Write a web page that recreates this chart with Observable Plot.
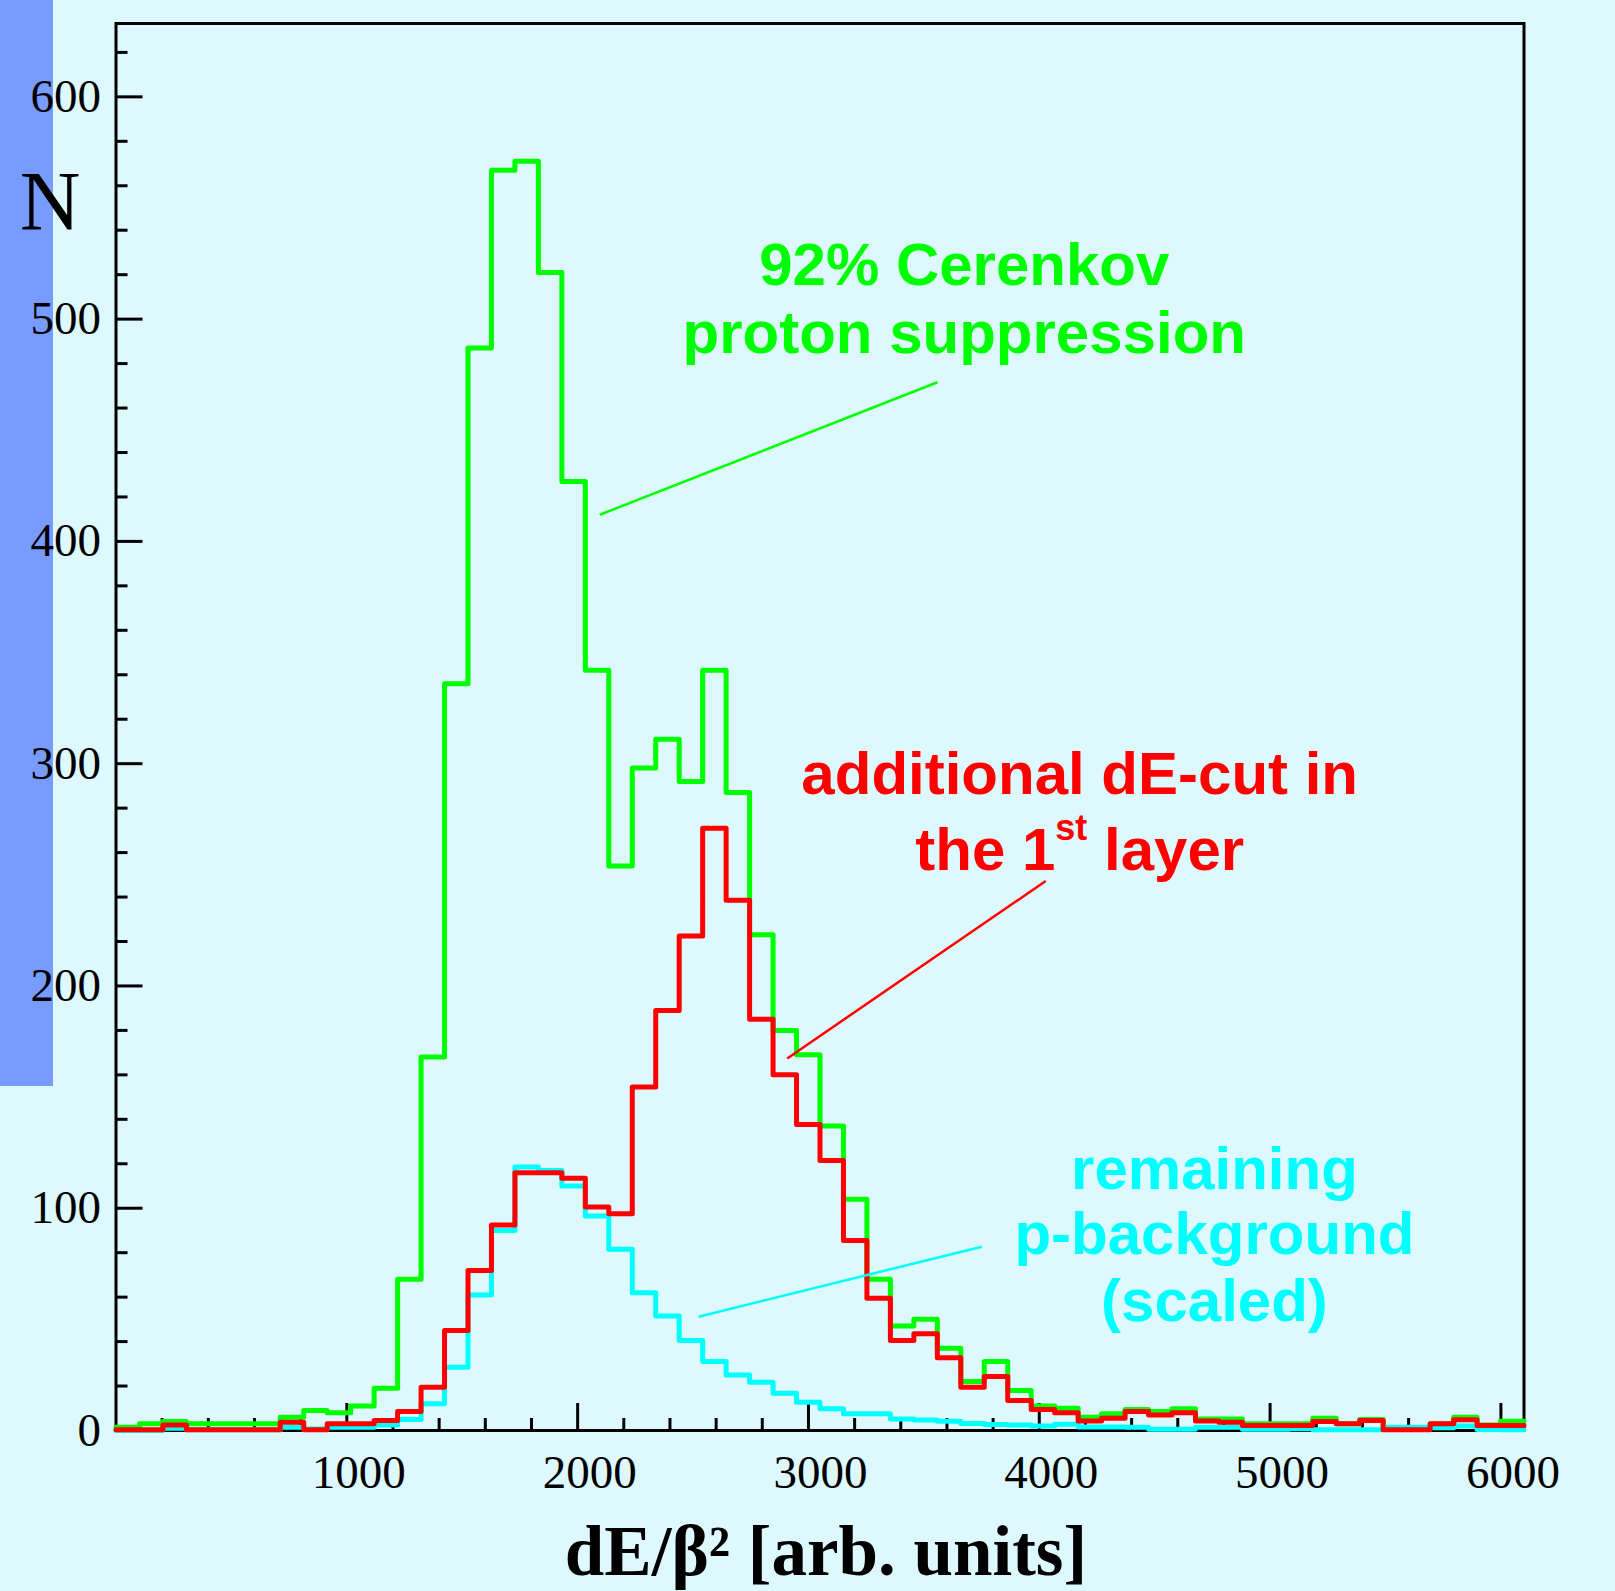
<!DOCTYPE html>
<html><head><meta charset="utf-8">
<script src="https://cdn.jsdelivr.net/npm/d3@7"></script>
<script src="https://cdn.jsdelivr.net/npm/@observablehq/plot@0.6"></script>
<style>
html,body{margin:0;padding:0;background:#ddf9fd;}
#wrap{position:relative;width:1615px;height:1591px;overflow:hidden;}
#band{position:absolute;left:0;top:0;width:53px;height:1086px;background:#779bff;}
#chart{position:absolute;left:0;top:0;}
</style></head><body>
<div id="wrap"><div id="band"></div><div id="chart"></div></div>
<script>
// histogram binning (60 bins over the axis range)
const binLow = 0, binHigh = 6100, nBins = 60;

// N per bin: 92% Cerenkov proton suppression (green)
const cerenkov = [1.5,3,4,3,3,3,3,6,9,8,
  11,19,68,168,336,487,567,571,521,427,
  342,254,298,311,292,342,287,223,180,169,
  137,104,68,47,50,37,22,31,18,11,
  10,6,7.5,9.5,8.5,9.8,5.2,5.2,3,3,
  3,5.5,3,5,1,1,3,6,2.5,4.2];
// additional dE-cut in the 1st layer (red)
const dEcut = [0.3,0.3,2.5,0.3,0.3,0.3,0.3,3.7,0.3,3,
  3,4.5,8.5,19.5,45,72,92.5,116,116,113.5,
  100.5,97.5,154.5,189,222.5,271,238.5,185,160,137.7,
  121.5,85.5,59.5,40.5,43.5,32.7,19.5,24.3,13.5,9.5,
  8,4.3,5.5,8.5,7,8,4.3,3.7,2.2,2.2,
  2.2,4,3,4.5,0.3,0.3,3,4.8,2.2,2.2];
// remaining p-background, scaled (cyan)
const pBackground = [0,0,1,0.3,0.3,0.3,0.3,1.5,0.7,1.5,
  1.5,2.5,5,12,28.5,61,90,118.5,117,110,
  96.5,81.5,62,51.5,40.5,31,25,21.7,16.8,12.7,
  9.8,7.5,7.5,5.2,4.7,4.2,3.2,2.7,2.5,2,
  2.8,1.6,1.6,1.5,0.6,0.6,1.5,1.5,0.6,0.6,
  0.8,0.3,0.3,0.3,1.5,1.5,1.2,2,0.5,0.3];

const xTickLabels = [1000,2000,3000,4000,5000,6000];
const yTickLabels = [0,100,200,300,400,500,600];
const xTitle = "dE/β² [arb. units]";
const yTitle = "N";

const GREEN = "#00ff00", RED = "#ff0000", CYAN = "#00ffff";

const greenNotes = [
  {text: "92% Cerenkov", x: 3675, y: 524},
  {text: "proton suppression", x: 3675, y: 493.5}];
const redNotes = [
  {text: "additional dE-cut in", x: 4175, y: 295},
  {text: "the 1st layer", x: 4175, y: 261}];
const cyanNotes = [
  {text: "remaining", x: 4759, y: 117.5},
  {text: "p-background", x: 4759, y: 88.2},
  {text: "(scaled)", x: 4759, y: 58}];
const pointers = [
  {x1: 2096, y1: 412, x2: 3559, y2: 471.6, c: GREEN},
  {x1: 2908, y1: 167.4, x2: 4028, y2: 247.2, c: RED},
  {x1: 2524, y1: 51.2, x2: 3751, y2: 82.7, c: CYAN}];

const binW = (binHigh - binLow) / nBins;
function steps(values) {
  const pts = values.map((v, i) => ({x: binLow + i * binW, y: v}));
  pts.push({x: binHigh, y: values[values.length - 1]});
  return pts;
}
const xMinor = d3.range(200, 6001, 200).filter(d => d % 1000 !== 0);
const yMinor = d3.range(20, 621, 20).filter(d => d % 100 !== 0);

const histStyle = {x: "x", y: "y", curve: "step-after", strokeWidth: 5, strokeLinejoin: "round"};
const noteStyle = {x: "x", y: "y", text: "text", fontFamily: "Liberation Sans", fontWeight: "bold",
  fontSize: 60, textAnchor: "middle", lineAnchor: "middle"};

const plot = Plot.plot({
  width: 1615, height: 1591,
  marginLeft: 115.5, marginRight: 91.5, marginTop: 23, marginBottom: 161,
  x: {domain: [binLow, binHigh]},
  y: {domain: [0, 633]},
  style: {background: "transparent", fontFamily: "Liberation Serif", overflow: "visible", color: "black"},
  marks: [
    Plot.axisX(xTickLabels, {tickSize: 0, tickPadding: 24, fontSize: 47, dx: 12, label: null, tickFormat: d => String(d)}),
    Plot.axisY(yTickLabels, {tickSize: 0, tickPadding: 15, fontSize: 47, label: null, tickFormat: d => String(d)}),
    Plot.ruleX(xTickLabels, {x: d => d, y1: 0, y2: 0, insetTop: -27, stroke: "black", strokeWidth: 3}),
    Plot.ruleX(xMinor, {x: d => d, y1: 0, y2: 0, insetTop: -12, stroke: "black", strokeWidth: 3}),
    Plot.ruleY(yTickLabels, {y: d => d, x1: 0, x2: 0, insetRight: -27, stroke: "black", strokeWidth: 3}),
    Plot.ruleY(yMinor, {y: d => d, x1: 0, x2: 0, insetRight: -12, stroke: "black", strokeWidth: 3}),
    Plot.frame({stroke: "black", strokeWidth: 3}),
    Plot.line(steps(cerenkov), {...histStyle, stroke: GREEN}),
    Plot.line(steps(pBackground), {...histStyle, stroke: CYAN}),
    Plot.line(steps(dEcut), {...histStyle, stroke: RED}),
    Plot.link(pointers, {x1: "x1", y1: "y1", x2: "x2", y2: "y2", stroke: "c", strokeWidth: 2.5}),
    Plot.text(greenNotes, {...noteStyle, fill: GREEN}),
    Plot.text(redNotes, {...noteStyle, fill: RED}),
    Plot.text(cyanNotes, {...noteStyle, fill: CYAN}),
    Plot.text([yTitle], {text: d => d, frameAnchor: "top-left", dx: -66, dy: 180, fontSize: 84, textAnchor: "middle", lineAnchor: "middle"}),
    Plot.text([xTitle], {text: d => d, frameAnchor: "bottom", dx: 6, dy: 122, fontSize: 71, fontWeight: "bold", textAnchor: "middle", lineAnchor: "middle"})
  ]
});
document.getElementById("chart").appendChild(plot);

// superscript "st" in "the 1st layer"
d3.select(plot).selectAll("text").filter(function() { return this.textContent === "the 1st layer"; })
  .each(function() {
    const t = d3.select(this);
    t.text(null);
    t.append("tspan").text("the 1");
    t.append("tspan").attr("font-size", 36).attr("dy", -30).text("st");
    t.append("tspan").attr("dy", 30).text(" layer");
  });
</script>
</body></html>
